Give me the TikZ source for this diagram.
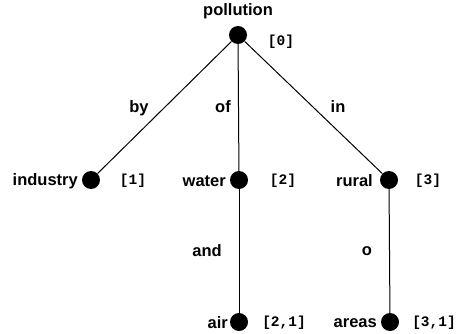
\documentclass[tikz,border=0pt]{standalone}
\usepackage{fontspec}
\setmainfont{Liberation Sans}
\newfontfamily\monof{Liberation Mono}
\begin{document}
\begin{tikzpicture}[x=1pt,y=-1pt,
  dot/.style={circle,fill=black,inner sep=0pt,minimum size=18pt},
  word/.style={font=\fontsize{16.5}{16.5}\selectfont\bfseries,inner sep=0pt},
  idx/.style={font=\fontsize{14.5}{14.5}\monof\bfseries,inner sep=0pt},
  edge/.style={line width=1pt},
  lab/.style={font=\fontsize{16.5}{16.5}\selectfont\bfseries,inner sep=0pt}]
\useasboundingbox (0,0) rectangle (457,334);
\node[dot] (p) at (238,35) {};
\node[dot] (ind) at (91,180) {};
\node[dot] (wat) at (239,180) {};
\node[dot] (rur) at (389,180) {};
\node[dot] (air) at (239,322) {};
\node[dot] (are) at (390,322) {};
\node[word] (tp) at (238,11) {pollution};
\node[idx] (ip) at (281,42) {[0]};
\node[word,anchor=east] (tind) at (78,181) {industry};
\node[idx] (iind) at (133,181) {[1]};
\node[word,anchor=east] (twat) at (226,181) {water};
\node[idx] (iwat) at (283,181) {[2]};
\node[word,anchor=east] (trur) at (373,181) {rural};
\node[idx] (irur) at (428,181) {[3]};
\node[word,anchor=east] (tair) at (228,323) {air};
\node[idx] (iair) at (284,323) {[2,1]};
\node[word,anchor=east] (tare) at (377,323) {areas};
\node[idx] (iare) at (434,323) {[3,1]};
\draw[edge] (p) -- (ind);
\draw[edge] (p) -- (wat);
\draw[edge] (p) -- (rur);
\draw[edge] (wat) -- (air);
\draw[edge] (rur) -- (are);
\node[lab] (lby) at (139,108) {by};
\node[lab] (lof) at (223,107) {of};
\node[lab] (lin) at (338,107) {in};
\node[lab] (land) at (207,251) {and};
\node[lab] (lo) at (367,251) {o};
\end{tikzpicture}
\end{document}
